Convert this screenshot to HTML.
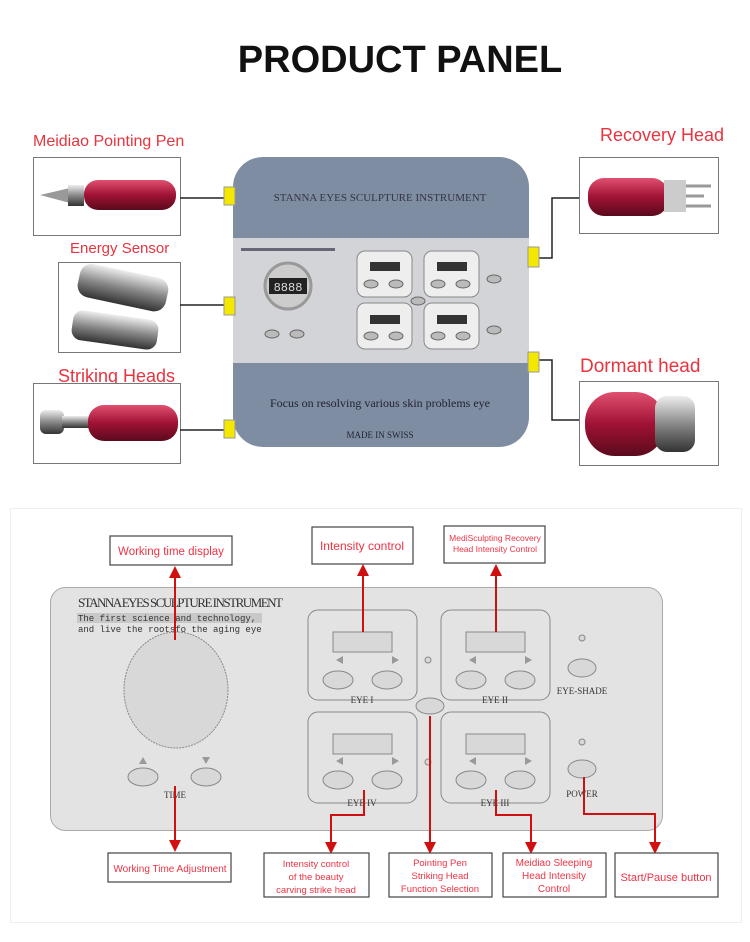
<!DOCTYPE html>
<html><head><meta charset="utf-8"><style>
body{margin:0;background:#fff;width:750px;height:942px;position:relative;overflow:hidden;font-family:"Liberation Sans",sans-serif}
.a{position:absolute}
.lbl{position:absolute;color:#e8343f;font-size:16px;white-space:nowrap}
</style></head><body>
<div class="a" style="left:0;top:39px;width:800px;text-align:center;font-size:38px;font-weight:bold;color:#111">PRODUCT PANEL</div>

<div class="lbl" style="left:33px;top:133px;font-size:16px">Meidiao Pointing Pen</div>
<div class="lbl" style="left:70px;top:240px;font-size:15px">Energy Sensor</div>
<div class="lbl" style="left:58px;top:366px;font-size:18px">Striking Heads</div>
<div class="lbl" style="left:600px;top:125px;font-size:18px">Recovery Head</div>
<div class="lbl" style="left:580px;top:356px;font-size:19px">Dormant head</div>

<svg class="a" style="left:0;top:0" width="750" height="942">
 <defs>
  <linearGradient id="red" x1="0" y1="0" x2="0" y2="1"><stop offset="0" stop-color="#e05070"/><stop offset=".5" stop-color="#a01235"/><stop offset="1" stop-color="#5a0a1c"/></linearGradient>
  <linearGradient id="met" x1="0" y1="0" x2="0" y2="1"><stop offset="0" stop-color="#eee"/><stop offset=".5" stop-color="#888"/><stop offset="1" stop-color="#333"/></linearGradient>
  <marker id="ar" markerUnits="userSpaceOnUse" markerWidth="12" markerHeight="12" refX="10" refY="6" orient="auto"><path d="M0,0 L12,6 L0,12 z" fill="#d01010"/></marker>
 </defs>
 <rect x="33.5" y="157.5" width="147" height="78" fill="#fff" stroke="#777"/>
 <rect x="58.5" y="262.5" width="122" height="90" fill="#fff" stroke="#777"/>
 <rect x="33.5" y="383.5" width="147" height="80" fill="#fff" stroke="#777"/>
 <rect x="579.5" y="157.5" width="139" height="76" fill="#fff" stroke="#777"/>
 <rect x="579.5" y="381.5" width="139" height="84" fill="#fff" stroke="#777"/>
 <path d="M40,195 L70,188 L70,203 z" fill="#999"/><rect x="68" y="185" width="16" height="21" fill="url(#met)"/>
 <rect x="84" y="180" width="92" height="30" rx="14" fill="url(#red)"/>
 <rect x="78" y="270" width="90" height="34" rx="12" fill="url(#met)" transform="rotate(12 120 287)"/>
 <rect x="72" y="315" width="86" height="30" rx="10" fill="url(#met)" transform="rotate(8 115 330)"/>
 <rect x="40" y="410" width="24" height="24" rx="6" fill="url(#met)"/><rect x="62" y="416" width="30" height="12" fill="url(#met)"/>
 <rect x="88" y="405" width="90" height="36" rx="16" fill="url(#red)"/>
 <rect x="588" y="178" width="80" height="38" rx="16" fill="url(#red)"/><rect x="664" y="180" width="22" height="32" fill="#ccc"/>
 <path d="M686,186 h25 M686,206 h25 M686,196 h18" stroke="#999" stroke-width="3"/>
 <rect x="585" y="392" width="80" height="64" rx="30" fill="url(#red)"/><rect x="655" y="396" width="40" height="56" rx="12" fill="url(#met)"/>

 <path d="M180,198 H226 M180,305 H226 M180,430 H226 M538,258 H552 V198 H579 M538,360 H552 V420 H579" stroke="#222" fill="none" stroke-width="1.5"/>
 <rect x="233" y="157" width="296" height="290" rx="30" fill="#7f8da3"/>
 <rect x="233" y="238" width="296" height="125" fill="#d2d4d7"/>
 <rect x="224" y="187" width="11" height="18" fill="#f5e800" stroke="#999"/>
 <rect x="224" y="297" width="11" height="18" fill="#f5e800" stroke="#999"/>
 <rect x="224" y="420" width="11" height="18" fill="#f5e800" stroke="#999"/>
 <rect x="528" y="247" width="11" height="20" fill="#f5e800" stroke="#999"/>
 <rect x="528" y="352" width="11" height="20" fill="#f5e800" stroke="#999"/>
 <text x="380" y="201" font-family="Liberation Serif" font-size="11" text-anchor="middle" fill="#334">STANNA EYES SCULPTURE INSTRUMENT</text>
 <rect x="241" y="248" width="94" height="3" fill="#667"/>
 <circle cx="288" cy="286" r="23" fill="#ccc" stroke="#999" stroke-width="3"/>
 <rect x="269" y="278" width="38" height="16" fill="#222"/>
 <text x="288" y="291" font-family="Liberation Mono" font-size="12" text-anchor="middle" fill="#ddd">8888</text>
 <g fill="#eee" stroke="#888">
  <rect x="357" y="251" width="55" height="46" rx="8"/><rect x="424" y="251" width="55" height="46" rx="8"/>
  <rect x="357" y="303" width="55" height="46" rx="8"/><rect x="424" y="303" width="55" height="46" rx="8"/>
 </g>
 <g fill="#333"><rect x="370" y="262" width="30" height="9"/><rect x="437" y="262" width="30" height="9"/><rect x="370" y="315" width="30" height="9"/><rect x="437" y="315" width="30" height="9"/></g>
 <g fill="#bbb" stroke="#666"><ellipse cx="371" cy="284" rx="7" ry="4"/><ellipse cx="396" cy="284" rx="7" ry="4"/><ellipse cx="438" cy="284" rx="7" ry="4"/><ellipse cx="463" cy="284" rx="7" ry="4"/>
 <ellipse cx="371" cy="336" rx="7" ry="4"/><ellipse cx="396" cy="336" rx="7" ry="4"/><ellipse cx="438" cy="336" rx="7" ry="4"/><ellipse cx="463" cy="336" rx="7" ry="4"/>
 <ellipse cx="418" cy="301" rx="7" ry="4"/><ellipse cx="494" cy="279" rx="7" ry="4"/><ellipse cx="494" cy="330" rx="7" ry="4"/><ellipse cx="272" cy="334" rx="7" ry="4"/><ellipse cx="297" cy="334" rx="7" ry="4"/></g>
 <text x="380" y="407" font-family="Liberation Serif" font-size="12" text-anchor="middle" fill="#223">Focus on resolving various skin problems eye</text>
 <text x="380" y="438" font-family="Liberation Serif" font-size="9" text-anchor="middle" fill="#223">MADE IN SWISS</text>

 <rect x="10.5" y="508.5" width="731" height="414" fill="none" stroke="#eee"/>
 <rect x="50.5" y="587.5" width="612" height="243" rx="15" fill="#e3e3e3" stroke="#aaa"/>
 <text x="78" y="607" font-family="Liberation Serif" font-size="13" fill="#333" textLength="205">STANNA EYES SCULPTURE INSTRUMENT</text>
 <rect x="77" y="613" width="185" height="10" fill="#c8c8c8"/>
 <text x="78" y="621" font-family="Liberation Mono" font-size="9" fill="#333">The first science and technology,</text>
 <text x="78" y="632" font-family="Liberation Mono" font-size="9" fill="#333">and live the rootsfo the aging eye</text>
 <ellipse cx="176" cy="690" rx="52" ry="58" fill="#d8d8d8" stroke="#888" stroke-dasharray="2 1"/>
 <g fill="#d8d8d8" stroke="#888">
  <ellipse cx="143" cy="777" rx="15" ry="9"/><ellipse cx="206" cy="777" rx="15" ry="9"/>
  <rect x="308" y="610" width="109" height="90" rx="10" fill="none"/><rect x="441" y="610" width="109" height="90" rx="10" fill="none"/>
  <rect x="308" y="712" width="109" height="91" rx="10" fill="none"/><rect x="441" y="712" width="109" height="91" rx="10" fill="none"/>
  <rect x="333" y="632" width="59" height="20"/><rect x="466" y="632" width="59" height="20"/><rect x="333" y="734" width="59" height="20"/><rect x="466" y="734" width="59" height="20"/>
  <ellipse cx="338" cy="680" rx="15" ry="9"/><ellipse cx="387" cy="680" rx="15" ry="9"/><ellipse cx="471" cy="680" rx="15" ry="9"/><ellipse cx="520" cy="680" rx="15" ry="9"/>
  <ellipse cx="338" cy="780" rx="15" ry="9"/><ellipse cx="387" cy="780" rx="15" ry="9"/><ellipse cx="471" cy="780" rx="15" ry="9"/><ellipse cx="520" cy="780" rx="15" ry="9"/>
  <ellipse cx="430" cy="706" rx="14" ry="8"/><ellipse cx="582" cy="668" rx="14" ry="9"/><ellipse cx="582" cy="769" rx="14" ry="9"/>
  <circle cx="428" cy="660" r="3"/><circle cx="428" cy="762" r="3"/><circle cx="582" cy="638" r="3"/><circle cx="582" cy="742" r="3"/>
 </g>
 <g fill="#999"><path d="M143,757 l-4,7 h8z M206,764 l-4,-7 h8z"/>
 <path d="M336,660 l7,-4 v8z M392,656 l7,4 -7,4z M469,660 l7,-4 v8z M525,656 l7,4 -7,4z M336,761 l7,-4 v8z M392,757 l7,4 -7,4z M469,761 l7,-4 v8z M525,757 l7,4 -7,4z"/></g>
 <g font-family="Liberation Serif" font-size="9" fill="#333" text-anchor="middle">
  <text x="175" y="798">TIME</text><text x="362" y="703">EYE I</text><text x="495" y="703">EYE II</text>
  <text x="362" y="806">EYE IV</text><text x="495" y="806">EYE III</text><text x="582" y="694">EYE-SHADE</text><text x="582" y="797">POWER</text>
 </g>

 <g stroke="#d01010" stroke-width="2" fill="none" marker-end="url(#ar)">
  <path d="M175,640 V568"/><path d="M363,632 V566"/><path d="M496,632 V566"/>
  <path d="M175,786 V850"/>
  <path d="M364,790 V815 H331 V852"/>
  <path d="M430,716 V852"/>
  <path d="M496,790 V815 H531 V852"/>
  <path d="M584,777 V814 H655 V852"/>
 </g>
 <g fill="#fff" stroke="#444" stroke-width="1.2">
  <rect x="110" y="536" width="122" height="29"/><rect x="312" y="527" width="101" height="37"/><rect x="444" y="526" width="101" height="37"/>
  <rect x="108" y="853" width="123" height="29"/><rect x="264" y="853" width="105" height="44"/><rect x="389" y="853" width="103" height="44"/>
  <rect x="503" y="853" width="103" height="44"/><rect x="615" y="853" width="103" height="44"/>
 </g>
 <g font-family="Liberation Sans" fill="#ee3344" text-anchor="middle">
  <text x="171" y="555" font-size="11.5">Working time display</text>
  <text x="362" y="550" font-size="12">Intensity control</text>
  <text x="495" y="541" font-size="8.5">MediSculpting Recovery</text><text x="495" y="552" font-size="8.5">Head Intensity Control</text>
  <text x="170" y="872" font-size="10">Working Time Adjustment</text>
  <text x="316" y="867" font-size="9.5">Intensity control</text><text x="316" y="880" font-size="9.5">of the beauty</text><text x="316" y="893" font-size="9.5">carving strike head</text>
  <text x="440" y="866" font-size="9.5">Pointing Pen</text><text x="440" y="879" font-size="9.5">Striking Head</text><text x="440" y="892" font-size="9.5">Function Selection</text>
  <text x="554" y="866" font-size="10">Meidiao Sleeping</text><text x="554" y="879" font-size="10">Head Intensity</text><text x="554" y="892" font-size="10">Control</text>
  <text x="666" y="881" font-size="11">Start/Pause button</text>
 </g>
</svg>
</body></html>
